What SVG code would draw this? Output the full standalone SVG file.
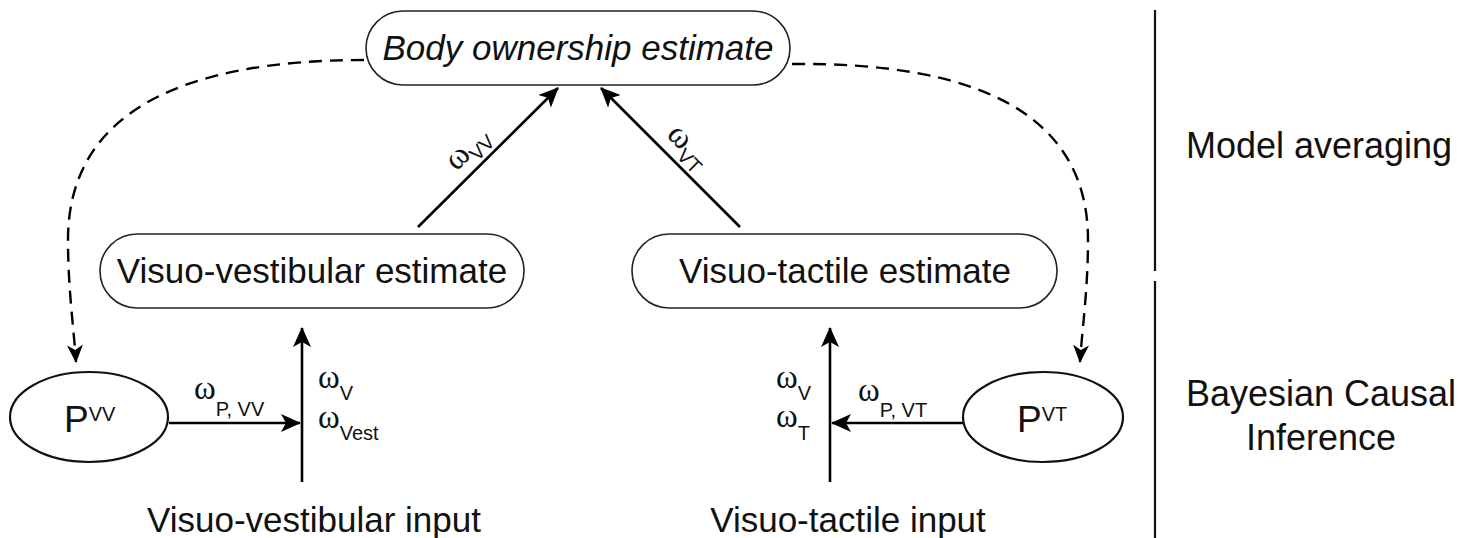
<svg xmlns="http://www.w3.org/2000/svg" width="1465" height="538" viewBox="0 0 1465 538">
<style>
.box{fill:#fff;stroke:#222;stroke-width:1.6}
.ell{fill:#fff;stroke:#111;stroke-width:2.2}
.lbl{font-family:"Liberation Sans",Arial,sans-serif;font-size:35px;fill:#111}
.it{font-style:italic}
.w{font-family:"Liberation Serif","Times New Roman",serif;font-size:33px;fill:#111}
.sub{font-family:"Liberation Sans",Arial,sans-serif;font-size:20px}
.arr{fill:none;stroke:#000;stroke-width:2.6;marker-end:url(#ah)}
.dash{fill:none;stroke:#000;stroke-width:2.4;stroke-dasharray:13 8;marker-end:url(#ahs)}
.sep{stroke:#111;stroke-width:2.2}
</style>
<defs>
<marker id="ah" markerUnits="userSpaceOnUse" markerWidth="20" markerHeight="18" refX="19" refY="9" orient="auto" viewBox="0 0 20 18">
<path d="M0,0 L20,9 L0,18 L5,9 Z" fill="#000"/>
</marker>
<marker id="ahs" markerUnits="userSpaceOnUse" markerWidth="18" markerHeight="16" refX="17" refY="8" orient="auto" viewBox="0 0 18 16">
<path d="M0,0 L18,8 L0,16 L5,8 Z" fill="#000"/>
</marker>
</defs>
<rect width="1465" height="538" fill="#fff"/>

<g id="connectors">
<path class="dash" d="M364,60 C186,60 68,110 68,240 C68,290 74,330 76,362"/>
<path class="dash" d="M792,64 C970,62 1088,110 1088,240 C1088,290 1082,330 1080,362"/>
<line class="arr" x1="418" y1="227" x2="558" y2="88"/>
<line class="arr" x1="740" y1="227" x2="601" y2="88"/>
<line class="arr" x1="302" y1="482" x2="302" y2="328"/>
<line class="arr" x1="830" y1="482" x2="830" y2="328"/>
<line class="arr" x1="169" y1="423" x2="300" y2="423"/>
<line class="arr" x1="963" y1="423" x2="832" y2="423"/>
<g transform="translate(482,163) rotate(-45)"><text class="w" x="0" y="-12" text-anchor="middle">ω<tspan class="sub" dy="8">VV</tspan></text></g>
<g transform="translate(674,161) rotate(45)"><text class="w" x="0" y="-12" text-anchor="middle">ω<tspan class="sub" dy="8">VT</tspan></text></g>
<text class="w" x="194" y="399">ω<tspan class="sub" dy="17">P, VV</tspan></text>
<text class="w" x="858" y="401">ω<tspan class="sub" dy="16">P, VT</tspan></text>
<text class="w" x="318" y="388">ω<tspan class="sub" dy="12">V</tspan></text>
<text class="w" x="318" y="428">ω<tspan class="sub" dy="12">Vest</tspan></text>
<text class="w" x="776" y="388">ω<tspan class="sub" dy="12">V</tspan></text>
<text class="w" x="776" y="427">ω<tspan class="sub" dy="13">T</tspan></text>
</g>

<g id="body-ownership">
<rect class="box" x="366" y="11" width="424" height="74" rx="37"/>
<text class="lbl it" x="578" y="60" text-anchor="middle">Body ownership estimate</text>
</g>
<g id="vv-estimate">
<rect class="box" x="100" y="234" width="424" height="74" rx="37"/>
<text class="lbl" x="312" y="283" text-anchor="middle">Visuo-vestibular estimate</text>
</g>
<g id="vt-estimate">
<rect class="box" x="632" y="234" width="425" height="74" rx="37"/>
<text class="lbl" x="845" y="283" text-anchor="middle">Visuo-tactile estimate</text>
</g>
<g id="p-vv">
<ellipse class="ell" cx="89" cy="417" rx="79" ry="45"/>
<text class="lbl" x="64" y="432" style="font-size:37px">P<tspan style="font-size:20px" dy="-11">VV</tspan></text>
</g>
<g id="p-vt">
<ellipse class="ell" cx="1043" cy="417" rx="80" ry="45"/>
<text class="lbl" x="1017" y="432" style="font-size:37px">P<tspan style="font-size:20px" dy="-11">VT</tspan></text>
</g>
<g id="vv-input">
<text class="lbl" x="314" y="532" text-anchor="middle">Visuo-vestibular input</text>
</g>
<g id="vt-input">
<text class="lbl" x="848" y="532" text-anchor="middle">Visuo-tactile input</text>
</g>
<g id="levels">
<line class="sep" x1="1155" y1="10" x2="1155" y2="271"/>
<line class="sep" x1="1155" y1="281" x2="1155" y2="538"/>
<text class="lbl" x="1319" y="158" text-anchor="middle" style="font-size:36px">Model averaging</text>
<text class="lbl" x="1321" y="406" text-anchor="middle" style="font-size:36px">Bayesian Causal</text>
<text class="lbl" x="1321" y="450" text-anchor="middle" style="font-size:36px">Inference</text>
</g>
</svg>
